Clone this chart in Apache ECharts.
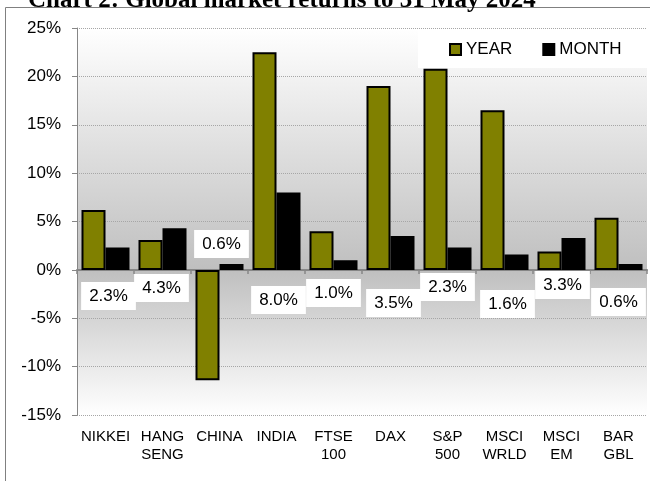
<!DOCTYPE html>
<html>
<head>
<meta charset="utf-8">
<script src="https://cdn.jsdelivr.net/npm/echarts@6/dist/echarts.min.js"></script>
<style>
    html, body { margin: 0; padding: 0; background: #fff; }
    #chart { width: 650px; height: 481px; }
</style>
</head>
<body>
<div id="chart"></div>
<script>
    // categories (two-line labels)
    var categories = ['NIKKEI', 'HANG\nSENG', 'CHINA', 'INDIA', 'FTSE\n100', 'DAX', 'S&P\n500', 'MSCI\nWRLD', 'MSCI\nEM', 'BAR\nGBL'];
    // returns in %
    var yearValues = [6.2, 3.1, -11.4, 22.5, 4.0, 19.0, 20.8, 16.5, 1.9, 5.4];
    var monthValues = [2.3, 4.3, 0.6, 8.0, 1.0, 3.5, 2.3, 1.6, 3.3, 0.6];
    var yTicks = { min: -15, max: 25, interval: 5 };

    // where the month labels sit (px shift from the zero line), they were moved by hand in the original
    var labelShiftX = [-9, -13, -10, -10, -12, -9, -12, -9, -11, -12];
    var labelShiftY = [12, 4, -40, 16, 9, 19, 3, 20, 1, 18];

    var font = "'Liberation Sans', Arial, sans-serif";

    var monthData = monthValues.map(function (v, i) {
        return {
            value: v,
            label: {
                show: true,
                position: 'bottom',
                distance: 0,
                offset: [labelShiftX[i], labelShiftY[i]],
                formatter: v.toFixed(1) + '%',
                color: '#000',
                fontSize: 17,
                lineHeight: 17,
                fontFamily: font,
                backgroundColor: '#fff',
                padding: [6, 8, 5, 8]
            }
        };
    });

    var myChart = echarts.init(document.getElementById('chart'));
    var option = {
        animation: false,
        backgroundColor: '#fff',
        graphic: [
            {
                type: 'text',
                left: 28,
                top: -12,
                style: {
                    text: 'Chart 2: Global market returns to 31 May 2024',
                    font: "bold 25px 'Liberation Serif', 'Times New Roman', serif",
                    fill: '#000'
                }
            },
            {
                type: 'rect',
                shape: { x: 5.5, y: 7.5, width: 700, height: 600 },
                style: { fill: 'none', stroke: '#808080', lineWidth: 1 },
                z: -1
            }
        ],
        legend: {
            orient: 'horizontal',
            left: 418,
            top: 29,
            width: 200,
            padding: [12, 34, 10, 31],
            backgroundColor: '#fff',
            itemWidth: 11,
            itemHeight: 11,
            itemGap: 30,
            icon: 'rect',
            textStyle: { fontSize: 17, fontFamily: font, color: '#000' },
            data: ['YEAR', 'MONTH']
        },
        grid: {
            left: 77,
            right: 3,
            top: 28,
            bottom: 66,
            show: true,
            borderWidth: 0,
            backgroundColor: new echarts.graphic.LinearGradient(0, 0, 0, 1, [
                { offset: 0, color: '#ffffff' },
                { offset: 0.625, color: '#bfbfbf' },
                { offset: 1, color: '#ffffff' }
            ])
        },
        xAxis: [
            {
                type: 'category',
                data: categories,
                axisLine: { onZero: true, lineStyle: { color: '#868686', width: 2 } },
                axisTick: { show: true, length: 4, lineStyle: { color: '#868686', width: 1.5 } },
                axisLabel: { show: false },
                splitLine: { show: false }
            },
            {
                type: 'category',
                data: categories,
                position: 'bottom',
                axisLine: { show: false, onZero: false },
                axisTick: { show: false },
                axisLabel: {
                    interval: 0,
                    margin: 13,
                    fontSize: 15,
                    lineHeight: 18,
                    fontFamily: font,
                    color: '#000'
                }
            }
        ],
        yAxis: {
            type: 'value',
            min: yTicks.min,
            max: yTicks.max,
            interval: yTicks.interval,
            axisLine: { show: true, lineStyle: { color: '#868686', width: 1 } },
            axisTick: { show: true, length: 5, lineStyle: { color: '#868686' } },
            axisLabel: {
                formatter: '{value}%',
                margin: 16,
                fontSize: 17,
                fontFamily: font,
                color: '#000'
            },
            splitLine: { show: true, lineStyle: { color: '#a6a6a6', type: 'dotted', width: 1 } }
        },
        series: [
            {
                name: 'YEAR',
                type: 'bar',
                xAxisIndex: 0,
                data: yearValues,
                barWidth: 24,
                barGap: '0%',
                itemStyle: { color: '#808000', borderColor: '#000', borderWidth: 2 }
            },
            {
                name: 'MONTH',
                type: 'bar',
                xAxisIndex: 0,
                data: monthData,
                barWidth: 24,
                barGap: '0%',
                itemStyle: { color: '#000', borderColor: '#000', borderWidth: 1.5 }
            }
        ]
    };
    myChart.setOption(option);
</script>
</body>
</html>
